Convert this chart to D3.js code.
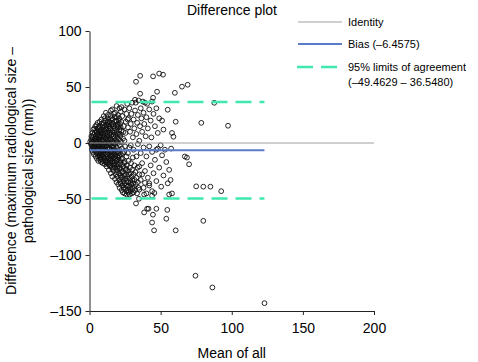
<!DOCTYPE html>
<html>
<head>
<meta charset="utf-8">
<script src="https://cdn.jsdelivr.net/npm/d3@7"></script>
<style>
  body { margin: 0; background: #fff; }
  svg text { font-family: "Liberation Sans", Arial, sans-serif; fill: #000; }
</style>
</head>
<body>
<svg id="chart" width="478" height="362"></svg>
<script>
// ==================================
// DATA
// ==================================
const xTicks = [0, 50, 100, 150, 200];
const yTicks = [100, 50, 0, -50, -100, -150];

const bias = -6.4575;
const lowerLimit = -49.4629;
const upperLimit = 36.5480;

const legendLabels = ["Identity", "Bias (–6.4575)", "95% limits of agreement", "(–49.4629 – 36.5480)"];

// [mean of all, difference]
const diffPoints = [
  // dense core near the origin
  [0.5,1],[1,-1],[1.2,3],[1.5,0],[1.8,-3],[2,5],[2.2,1],[2.5,-2],[2.8,7],[3,-5],[3,2],[3.3,-1],[3.5,4],[3.7,9],[3.9,-7],[4,0],[4.2,-3],[4.4,6],[4.6,11],[4.8,2],
  [5,-9],[5.1,-1],[5.3,4],[5.5,8],[5.6,-5],[5.8,13],[6,1],[6.1,-12],[6.3,6],[6.4,-3],[6.6,10],[6.8,-7],[7,3],[7.1,15],[7.3,-1],[7.4,-10],[7.6,7],[7.8,-4],[7.9,12],[8,0],
  [8,-14],[8.2,5],[8.3,-8],[8.5,17],[8.6,2],[8.7,-2],[8.9,9],[9,-11],[9.1,-5],[9.2,14],
  [9.4,3],[9.5,-16],[9.6,-1],[9.8,7],[9.9,18],[10,-8],[10.1,1],[10.2,-13],[10.4,11],[10.5,-3],[10.6,5],[10.8,-19],[10.9,15],[11,-6],[11.1,0],[11.2,9],[11.4,-10],[11.5,20],
  [11.6,3],[11.7,-15],[11.8,-2],[12,13],[12,6],[12.1,-21],[12.2,-7],[12.4,1],[12.5,17],[12.6,-12],[12.7,8],[12.8,-4],
  [13,22],[13,-17],[13.1,3],[13.2,-9],[13.4,11],[13.5,-1],[13.6,-24],[13.7,15],[13.8,6],[14,-13],[14,-5],[14.1,19],[14.2,1],[14.4,-20],[14.5,9],[14.6,-8],[14.8,24],[14.9,4],
  [15,-27],[15,-15],[15.1,13],[15.2,-2],[15.3,7],[15.5,-11],[15.6,18],[15.7,-6],[15.8,-22],[16,2],[16,11],[16.1,-30],[16.2,-17],[16.3,21],[16.4,-3],[16.6,6],[16.7,-9],[16.8,15],
  [17,-25],[17,-13],[17.1,0],[17.2,9],[17.3,26],[17.4,-19],[17.5,4],[17.6,-6],[17.8,13],[17.9,-32],[18,-1],[18,19],[18.1,-22],[18.3,7],[18.4,-11],[18.5,-28],[18.6,16],[18.7,2],
  [18.8,-16],[19,10],[19,-35],[19.1,-4],[19.2,23],[19.4,-24],[19.5,5],[19.6,-9],[19.7,-30],[19.8,14],[20,-19],[20,0],
  [20.2,-37],[20.3,8],[20.4,-13],[20.5,20],[20.6,-27],[20.7,3],[20.8,-6],[21,-33],[21,12],[21.1,-22],[21.2,-40],[21.3,-2],[21.5,17],[21.6,-16],[21.7,6],[21.8,-29],[22,-10],
  [22,28],[22.1,-36],[22.2,1],[22.4,-24],[22.5,11],[22.6,-42],[22.7,-5],[22.9,-19],
  [10,24],[11.5,27],[13,25],[15,29],[16,30],[18,27],[19,33],[20,25],[21,31],
  [1.3,6],[1.6,-6],[2.1,9],[2.4,-8],[2.7,12],[3.1,-10],[3.4,13],[3.6,-4],[4.1,15],[4.3,-12],[4.7,-8],[4.9,16],[5.2,-14],[5.4,1],[5.7,18],[5.9,-2],[6.2,-16],[6.5,14],
  [6.7,3],[6.9,-11],[7.2,19],[7.5,-15],[7.7,9],[8.1,-17],[8.4,21],[8.8,-6],[9.3,-18],[9.7,12],[10.3,-14],[10.7,22],[11.3,-17],[11.9,16],[12.3,-10],[12.9,19],[13.3,-14],
  [13.9,-2],[14.3,13],[14.7,-16],[15.4,22],[15.9,-12],[16.5,17],[16.9,-20],[17.7,23],[18.2,-14],[18.9,20],[19.3,-12],[19.9,17],[20.9,22],[21.4,-18],[21.9,14],
  [3.2,3],[3.8,-2],[4.5,4],[5.4,-6],[6,8],[6.7,-2],[7.2,6],[7.9,-9],[8.4,11],[8.9,-3],[9.5,6],[9.9,-10],[10.6,-1],[11.3,4],[11.9,-13],[12.6,10],[13.1,-6],[13.9,8],
  [14.4,-11],[15,3],[15.6,-8],[16.3,1],[16.9,-4],[17.5,11],[18.3,-8],[19.1,1],[19.8,-15],[20.6,-9],[21.3,8],[22.2,-14],
  [6.2,-9],[7,11],[8.7,-12],[9.3,16],[10.9,-16],[11.6,12],[12.2,-18],[13.5,17],[14.2,-18],[15.2,16],[16.1,-14],[17.2,-10],[18.6,-19],[19.4,8],[20.1,15],[21.1,-11],
  [22.3,19],[23.3,-9],[23.9,10],[24.6,2],
  [2.6,-4],[5.1,10],[7.4,-13],[9.7,-7],[12.9,-1],[14.8,-14],[17.8,-17],[19.6,-21],[20.8,-23],[22.8,-26],[16.4,-23],[18.9,-26],[14.7,-21],[13.3,-19],[24.3,-18],
  [25.9,-23],[22.1,-31],[21.6,-35],
  // lower tail
  [23,-31],[23.1,-38],[23.2,-14],[23.4,-44],[23.5,-26],[23.6,4],[23.8,-34],[24,-21],[24,-40],[24.1,15],[24.3,-29],[24.4,-8],[24.6,-45],[24.7,-36],[24.8,-17],[25,-32],
  [25,-41],[25.2,-24],[25.3,9],[25.5,-38],[25.6,-28],[25.8,-43],[26,-12],[26,-34],[26.2,-20],[26.3,-46],[26.5,-30],[26.6,-39],[26.8,21],[27,-25],[27,-42],[27.2,-35],
  [27.4,-16],[27.5,-44],[27.7,-28],[27.8,-38],[28,-4],[28,-32],[28.2,-46],[28.4,-22],[28.5,-40],[28.7,-35],[28.9,-27],[29,-43],[29.2,-18],[29.4,-37],[29.6,-30],[29.8,-45],
  [30,-33],[30,-24],[30.3,-41],[30.5,-13],[30.7,-36],[31,-28],[31,-44],[31.3,-39],[31.6,-20],[31.8,-33],[32,-42],[32.3,-26],[32.6,-37],[33,-31],[33.4,-45],[33.8,-22],
  [34,-35],[34.5,-40],[35,-28],
  // upper scatter
  [22.5,32],[23,24],[24.5,30],[25.5,19],[26,26],[26.5,35],[27,14],[27.5,22],[28,31],[28.5,10],[29,17],[29.5,26],[30,36],[30.5,5],[31,21],[31.5,13],[32,29],[32.5,36],
  [33,8],[33.5,18],[34,25],[34.5,38],[35,2],[35.5,15],[36,31],[36.5,22],[37,10],[37.5,37],[38,27],[38.5,17],[39,36],[39.5,6],[40,23],[40.5,35],[41,13],[42,30],[43,20],
  [43.5,5],[44,37],[45,26],[46,15],[47,31],[48,9],[49,22],[50,-2],[52,12],
  // middle scatter
  [25,-3],[27,-9],[29,-2],[31,-6],[33,-12],[34,-1],[36,-9],[37,-18],[38,-4],[39,-25],[40,-12],[41,-31],[42,-3],[43,-20],[44,-8],[45,-27],[46,-15],[47,-34],[48,-5],
  [49,-22],[51,-11],[52,-29],[53,-6],[54,-17],[55,-36],[56,-24],[47,-6],[36,-33],[38,-40],[40,-45],[42,-38],[44,-43],[37,-28],[35,-21],
  // outliers
  [35.6,60],[44.7,59.5],[49,62],[51.7,61],[32.7,54.7],[35.6,44],[47.5,45.8],[44.7,40.4],[60,44.8],[65,50.3],[69,52],[32,38.6],[87.7,35.9],[78.6,18],[97.4,15.4],
  [55,29.7],[51,20],[60.6,19],[58,9],[59,5.6],[57.4,-5],[67,-12],[68.5,-13],[70,-19],
  [75,-38.7],[80,-39],[85,-39],[92.6,-43],[80,-69.5],[60.6,-78],[45.4,-78],[47,-58.7],[54.7,-59.7],[54,-67.6],[44.6,-64],[44,-71],[38.4,-62],[40.5,-58.7],[41.5,-58.7],
  [32.7,-54],[34.8,-49.8],[38.4,-46],[44,-47],[45.6,-44.6],[50.4,-39],[56,-46],[58,-45],[74.5,-118.5],[86.4,-129],[123,-143],[35,-41.7],[39,-35.6],[42,-36],[57,-33]
];

// ==================================
// LAYOUT
// ==================================
const svg = d3.select("#chart");
const margin = { top: 31, right: 104, bottom: 51, left: 89.5 };
const W = 478, H = 362;

const x = d3.scaleLinear().domain([0, 200]).range([margin.left, W - margin.right]);
const y = d3.scaleLinear().domain([-150, 100]).range([H - margin.bottom, margin.top]);

const fmt = d => (d < 0 ? "–" + Math.abs(d) : "" + d);

// x axis
const gx = svg.append("g")
    .attr("transform", `translate(0,${H - margin.bottom})`)
    .call(d3.axisBottom(x).tickValues(xTicks).tickSize(4).tickSizeOuter(0).tickFormat(fmt));
gx.selectAll("text").style("font-size", "14px").attr("dy", "1.05em");

// y axis
const gy = svg.append("g")
    .attr("transform", `translate(${margin.left},0)`)
    .call(d3.axisLeft(y).tickValues(yTicks).tickSize(4).tickSizeOuter(0).tickFormat(fmt));
gy.selectAll("text").style("font-size", "14px").attr("x", -8);

svg.selectAll(".domain, .tick line").attr("stroke", "#222");

// points
svg.append("g")
    .selectAll("circle")
    .data(diffPoints)
    .enter()
    .append("circle")
    .attr("cx", d => x(d[0]))
    .attr("cy", d => y(d[1]))
    .attr("r", 2.4)
    .attr("fill", "none")
    .attr("stroke", "#111")
    .attr("stroke-width", 0.9);

// reference lines
const maxMean = d3.max(diffPoints, d => d[0]);

svg.append("line")
    .attr("x1", x(0)).attr("x2", x(200))
    .attr("y1", y(0)).attr("y2", y(0))
    .attr("stroke", "#a0a0a0").attr("stroke-width", 1);

svg.append("line")
    .attr("x1", x(0)).attr("x2", x(maxMean))
    .attr("y1", y(bias)).attr("y2", y(bias))
    .attr("stroke", "#5b7bc9").attr("stroke-width", 2);

[lowerLimit, upperLimit].forEach(v => {
  svg.append("line")
    .attr("x1", x(0) + 2).attr("x2", x(maxMean))
    .attr("y1", y(v)).attr("y2", y(v))
    .attr("stroke", "#3ee8b0").attr("stroke-width", 2.5)
    .attr("stroke-dasharray", "16,8");
});

// ==================================
// TITLE / LABELS
// ==================================
svg.append("text")
    .attr("x", 232).attr("y", 15)
    .attr("text-anchor", "middle")
    .style("font-size", "14px")
    .text("Difference plot");

svg.append("text")
    .attr("x", (margin.left + W - margin.right) / 2).attr("y", 358)
    .attr("text-anchor", "middle")
    .style("font-size", "14px")
    .text("Mean of all");

const yLab = svg.append("text")
    .attr("transform", "translate(0,171) rotate(-90)")
    .attr("text-anchor", "middle")
    .style("font-size", "14px");
yLab.append("tspan").attr("x", 0).attr("y", 16).text("Difference (maximum radiological size –");
yLab.append("tspan").attr("x", 0).attr("y", 33).text("pathological size (mm))");

// ==================================
// LEGEND
// ==================================
const lg = svg.append("g").attr("transform", "translate(298,0)");
lg.append("line").attr("x1", 0).attr("x2", 44).attr("y1", 22).attr("y2", 22)
    .attr("stroke", "#a0a0a0").attr("stroke-width", 1);
lg.append("line").attr("x1", 0).attr("x2", 44).attr("y1", 44).attr("y2", 44)
    .attr("stroke", "#5b7bc9").attr("stroke-width", 2);
lg.append("line").attr("x1", -1).attr("x2", 40).attr("y1", 67).attr("y2", 67)
    .attr("stroke", "#3ee8b0").attr("stroke-width", 2.5).attr("stroke-dasharray", "16,8");

const legendY = [26, 48, 71, 86];
legendLabels.forEach((t, i) => {
  lg.append("text").attr("x", 50).attr("y", legendY[i])
    .style("font-size", "11px").text(t);
});
</script>
</body>
</html>
